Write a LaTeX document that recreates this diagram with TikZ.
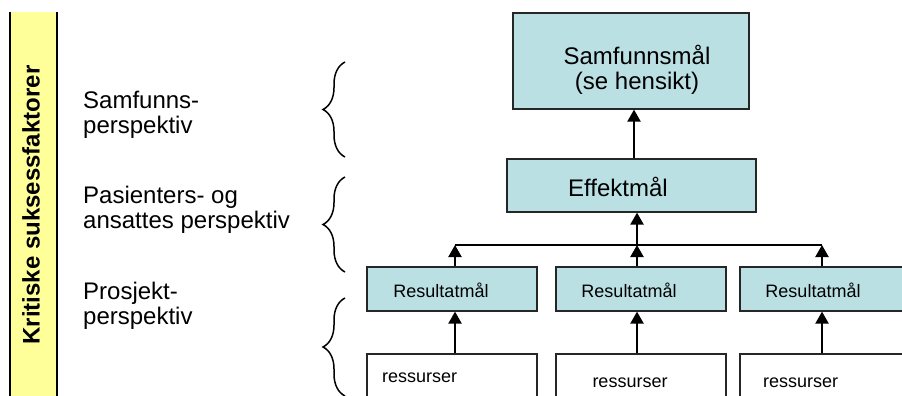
\documentclass[tikz,border=0pt]{standalone}
\usepackage{fontspec}
\setmainfont{Liberation Sans}
\usetikzlibrary{arrows.meta,decorations.pathreplacing,calc}
\definecolor{boxfill}{RGB}{186,224,228}
\definecolor{barfill}{RGB}{255,255,153}
\tikzset{
  goalbox/.style={draw=black!85, line width=1.2pt, fill=boxfill, inner sep=0pt},
  resbox/.style={draw=black!85, line width=1.2pt, fill=white, inner sep=0pt},
  bigtxt/.style={font=\fontsize{24pt}{25pt}\selectfont, inner sep=0pt, align=center},
  lefttxt/.style={font=\fontsize{24pt}{25.5pt}\selectfont, inner sep=0pt, align=left, anchor=west},
  smalltxt/.style={font=\fontsize{18pt}{20pt}\selectfont, inner sep=0pt},
  arr/.style={line width=2.2pt, -{Triangle[width=13pt,length=12pt]}},
  barline/.style={line width=1.3pt},
  bracestyle/.style={line width=1.5pt, decorate, decoration={brace, amplitude=22pt}}
}
\begin{document}
\begin{tikzpicture}[x=1pt,y=-1pt]
\useasboundingbox (0,0) rectangle (902,396);
\clip (0,0) rectangle (902,396);
% yellow side bar
\fill[barfill] (10,12) rectangle (57,410);
\draw[line width=2pt] (10,12) -- (10,410);
\draw[line width=2pt] (57,12) -- (57,410);
\node[font=\fontsize{24pt}{25pt}\selectfont\bfseries, rotate=90, inner sep=0pt] (ksf) at (31,205) {Kritiske suksessfaktorer};
% left labels
\node[lefttxt] (l1) at (83,115) {Samfunns-\\perspektiv};
\node[lefttxt] (l2) at (83,210) {Pasienters- og\\ansattes perspektiv};
\node[lefttxt] (l3) at (83,306) {Prosjekt-\\perspektiv};
% braces
\coordinate (b1t) at (345,62);  \coordinate (b1b) at (345,157);
\coordinate (b2t) at (345,177); \coordinate (b2b) at (345,272);
\coordinate (b3t) at (345,298); \coordinate (b3b) at (345,396);
\draw[bracestyle] (b1b) -- (b1t);
\draw[bracestyle] (b2b) -- (b2t);
\draw[bracestyle] (b3b) -- (b3t);
% boxes
\node[goalbox, minimum width=236pt, minimum height=96pt] (sam) at (631,61) {};
\node[bigtxt] (samt) at (637,70) {Samfunnsmål\\(se hensikt)};
\node[goalbox, minimum width=249pt, minimum height=53pt] (eff) at (631.5,185.5) {};
\node[bigtxt] (efft) at (618,187) {Effektmål};
\node[goalbox, minimum width=170pt, minimum height=44pt] (res1) at (452,289) {};
\node[goalbox, minimum width=170pt, minimum height=44pt] (res2) at (641,289) {};
\node[goalbox, minimum width=170pt, minimum height=44pt] (res3) at (825,289) {};
\node[smalltxt] (res1t) at (441,290) {Resultatmål};
\node[smalltxt] (res2t) at (629,290) {Resultatmål};
\node[smalltxt] (res3t) at (813,290) {Resultatmål};
\node[resbox, minimum width=170pt, minimum height=70pt] (rs1) at (452,389) {};
\node[resbox, minimum width=170pt, minimum height=70pt] (rs2) at (641,389) {};
\node[resbox, minimum width=170pt, minimum height=70pt] (rs3) at (825,389) {};
\node[smalltxt, anchor=west] (rs1t) at (382,378) {ressurser};
\node[smalltxt] (rs2t) at (630,383) {ressurser};
\node[smalltxt, anchor=west] (rs3t) at (763,383) {ressurser};
% connectors
\coordinate (bl) at (455,245);
\coordinate (bm) at (637,245);
\coordinate (br) at (822,245);
\coordinate (tx) at (634,0);
\draw[barline] (bl) -- (br);
\draw[arr] (res1.north -| bl) -- (bl);
\draw[arr] (res2.north -| bm) -- (bm);
\draw[arr] (res3.north -| br) -- (br);
\draw[arr] (bm) -- (eff.south -| bm);
\draw[arr] (eff.north -| tx) -- (sam.south -| tx);
\draw[arr] (rs1.north -| bl) -- (res1.south -| bl);
\draw[arr] (rs2.north -| bm) -- (res2.south -| bm);
\draw[arr] (rs3.north -| br) -- (res3.south -| br);
\end{tikzpicture}
\end{document}
